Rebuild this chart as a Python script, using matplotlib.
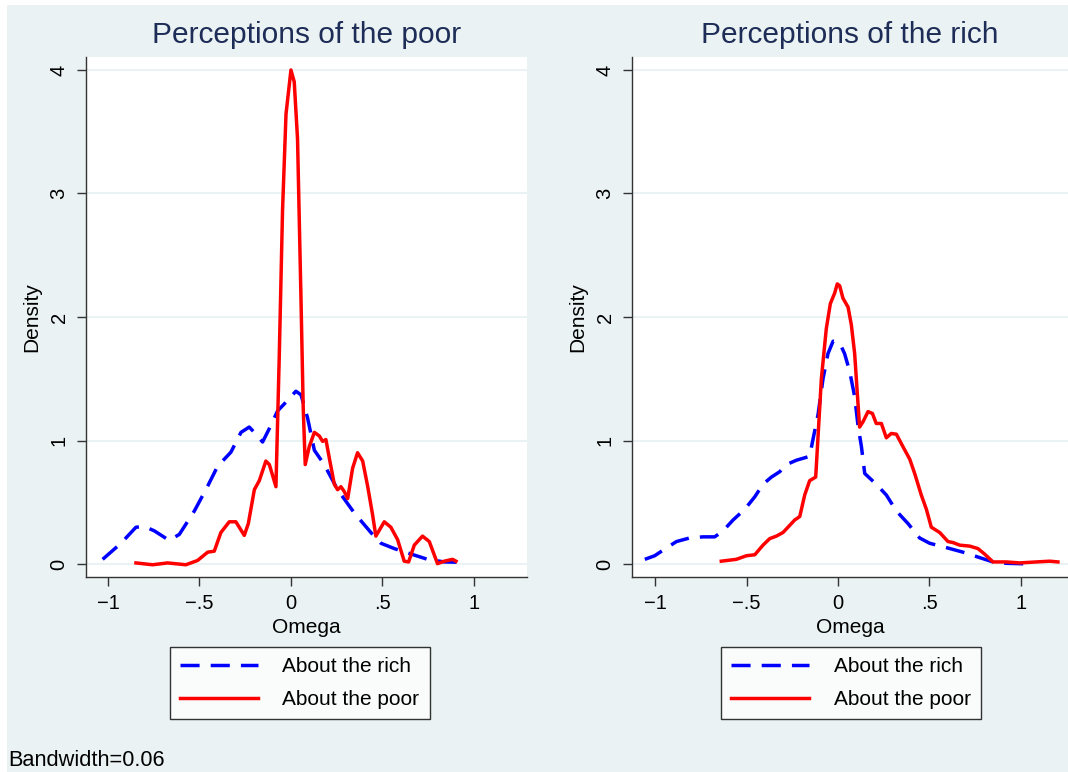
import numpy as np
import matplotlib
matplotlib.use('Agg')
import matplotlib.pyplot as plt
from matplotlib.patches import Rectangle

plt.rcParams['font.family'] = ['Liberation Sans', 'DejaVu Sans']

# ---- data (kernel density curves, Omega vs Density) ----
# left panel: perceptions of the poor
poor_rich_x = [-1.029, -0.929, -0.847, -0.801, -0.747, -0.665, -0.610, -0.528, -0.455, -0.401,
               -0.328, -0.273, -0.228, -0.191, -0.155, -0.109, -0.073, -0.036, 0.027, 0.055,
               0.091, 0.128, 0.182, 0.255, 0.346, 0.437, 0.492, 0.565, 0.656, 0.747, 0.838, 0.929]
poor_rich_y = [0.038, 0.168, 0.298, 0.304, 0.269, 0.191, 0.240, 0.429, 0.631, 0.791,
               0.906, 1.066, 1.109, 1.051, 0.988, 1.124, 1.240, 1.297, 1.399, 1.370,
               1.182, 0.921, 0.805, 0.602, 0.414, 0.255, 0.168, 0.125, 0.081, 0.038, 0.017, 0.014]

poor_poor_x = [-0.847, -0.756, -0.674, -0.574, -0.510, -0.455, -0.419, -0.383, -0.337, -0.301,
               -0.255, -0.233, -0.200, -0.173, -0.137, -0.118, -0.082, -0.064, -0.046, -0.027,
               0.0, 0.018, 0.036, 0.055, 0.067, 0.078, 0.100, 0.128, 0.155, 0.173,
               0.191, 0.209, 0.237, 0.255, 0.273, 0.291, 0.310, 0.337, 0.364, 0.392,
               0.419, 0.446, 0.464, 0.510, 0.546, 0.583, 0.619, 0.643, 0.674, 0.719,
               0.756, 0.801, 0.838, 0.883, 0.902]
poor_poor_y = [0.009, -0.006, 0.009, -0.006, 0.029, 0.096, 0.104, 0.255, 0.342, 0.342,
               0.232, 0.327, 0.602, 0.675, 0.834, 0.805, 0.626, 1.674, 2.861, 3.643,
               4.0, 3.904, 3.441, 2.137, 1.268, 0.805, 0.950, 1.066, 1.037, 0.993,
               1.008, 0.863, 0.646, 0.602, 0.626, 0.588, 0.530, 0.776, 0.901, 0.834,
               0.631, 0.400, 0.226, 0.342, 0.298, 0.197, 0.023, 0.017, 0.153, 0.226,
               0.182, 0.003, 0.023, 0.038, 0.023]

# right panel: perceptions of the rich
rich_rich_x = [-1.056, -1.002, -0.938, -0.883, -0.811, -0.738, -0.674, -0.628, -0.574, -0.510,
               -0.455, -0.410, -0.364, -0.319, -0.282, -0.228, -0.155, -0.137, -0.109, -0.082,
               -0.055, -0.027, 0.009, 0.036, 0.064, 0.091, 0.109, 0.128, 0.146, 0.209,
               0.264, 0.319, 0.383, 0.446, 0.501, 0.592, 0.683, 0.774, 0.847, 0.920, 1.056]
rich_rich_y = [0.038, 0.067, 0.130, 0.182, 0.211, 0.220, 0.220, 0.269, 0.356, 0.443,
               0.544, 0.646, 0.704, 0.747, 0.805, 0.840, 0.872, 1.008, 1.211, 1.500,
               1.703, 1.804, 1.790, 1.703, 1.558, 1.355, 1.124, 0.950, 0.733, 0.646,
               0.559, 0.429, 0.327, 0.211, 0.168, 0.133, 0.096, 0.052, 0.017, 0.006, 0.0]

rich_poor_x = [-0.638, -0.556, -0.501, -0.455, -0.410, -0.373, -0.337, -0.301, -0.264, -0.237,
               -0.209, -0.182, -0.155, -0.122, -0.109, -0.091, -0.064, -0.042, -0.018, -0.004,
               0.009, 0.027, 0.055, 0.073, 0.091, 0.104, 0.118, 0.137, 0.164, 0.188,
               0.209, 0.237, 0.264, 0.291, 0.319, 0.355, 0.392, 0.419, 0.455, 0.483,
               0.510, 0.556, 0.601, 0.628, 0.665, 0.720, 0.765, 0.801, 0.847, 0.920,
               0.993, 1.084, 1.157, 1.202]
rich_poor_y = [0.023, 0.038, 0.067, 0.075, 0.153, 0.206, 0.226, 0.255, 0.313, 0.356,
               0.385, 0.559, 0.675, 0.704, 1.037, 1.500, 1.906, 2.108, 2.195, 2.268,
               2.253, 2.152, 2.080, 1.935, 1.703, 1.413, 1.109, 1.153, 1.234, 1.219,
               1.138, 1.138, 1.022, 1.057, 1.051, 0.950, 0.849, 0.733, 0.559, 0.443,
               0.298, 0.255, 0.182, 0.174, 0.153, 0.145, 0.125, 0.081, 0.017, 0.017,
               0.009, 0.017, 0.023, 0.017]

titles = ['Perceptions of the poor', 'Perceptions of the rich']
legend_labels = ['About the rich', 'About the poor']
x_ticks = [-1, -0.5, 0, 0.5, 1]
x_ticklabels = ['\u22121', '\u2212.5', '0', '.5', '1']
y_ticks = [0, 1, 2, 3, 4]

bg = '#EAF2F3'
navy = '#1E2D57'
spine_col = '#333333'

fig = plt.figure(figsize=(10.68, 7.72), dpi=100, facecolor='white')
fig.patches.append(Rectangle((7 / 1068, 0), 1 - 7 / 1068, 1 - 5 / 772,
                             transform=fig.transFigure, facecolor=bg, edgecolor='none', zorder=-10))

W, H = 1068, 772
ax1 = fig.add_axes([86 / W, 1 - 577 / H, (527 - 86) / W, (577 - 57) / H])
ax2 = fig.add_axes([632 / W, 1 - 577 / H, (1068 - 632) / W, (577 - 57) / H])

panels = [
    (ax1, poor_rich_x, poor_rich_y, poor_poor_x, poor_poor_y, (-1.12, 1.29), 170),
    (ax2, rich_rich_x, rich_rich_y, rich_poor_x, rich_poor_y, (-1.126, 1.257), 721),
]

for i, (ax, rx, ry, px, py, xlim, leg_x) in enumerate(panels):
    ax.set_facecolor('white')
    for y in y_ticks:
        ax.axhline(y, color=bg, lw=1.5, zorder=0)
    ax.plot(rx, ry, color='#0000FF', lw=2.5, dashes=(5.5, 3.2), label=legend_labels[0])
    ax.plot(px, py, color='#FF0000', lw=2.5, label=legend_labels[1])
    ax.set_xlim(*xlim)
    ax.set_ylim(-0.105, 4.105)
    ax.set_xticks(x_ticks)
    ax.set_xticklabels(x_ticklabels)
    ax.set_yticks(y_ticks)
    ax.set_yticklabels([str(v) for v in y_ticks], rotation=90, va='center')
    ax.tick_params(axis='both', direction='out', length=6.5, width=1, color=spine_col,
                   labelsize=14.5, pad=6)
    for s in ['top', 'right']:
        ax.spines[s].set_visible(False)
    for s in ['left', 'bottom']:
        ax.spines[s].set_color(spine_col)
        ax.spines[s].set_linewidth(1)
    ax.set_xlabel('Omega', fontsize=15, labelpad=3)
    ax.set_ylabel('Density', fontsize=15, labelpad=6)
    ax.set_title(titles[i], fontsize=21.5, color=navy, pad=10)
    leg = ax.legend(loc='upper left', bbox_to_anchor=(leg_x / W, 1 - 647 / H),
                    bbox_transform=fig.transFigure, fontsize=15, frameon=True,
                    fancybox=False, edgecolor='black', handlelength=3.7,
                    handletextpad=1.2, labelspacing=0.65, borderpad=0.5, borderaxespad=0)
    leg.get_frame().set_linewidth(1)

fig.text(8 / W, 1 - 760 / H, 'Bandwidth=0.06', fontsize=15.7, va='center', ha='left')

fig.savefig('out.png', dpi=100, facecolor=fig.get_facecolor())
